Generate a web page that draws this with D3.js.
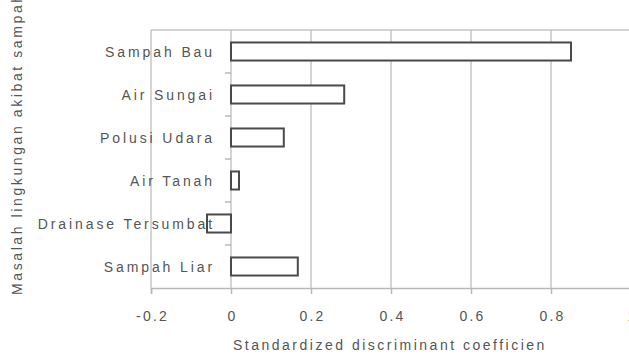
<!DOCTYPE html>
<html>
<head>
<meta charset="utf-8">
<script src="https://cdn.jsdelivr.net/npm/d3@7/dist/d3.min.js"></script>
<style>
  body { margin: 0; background: #fff; }
  svg { display: block; }
  text { font-family: "Liberation Sans", Arial, sans-serif; fill: #555; }
</style>
</head>
<body>
<svg id="chart" width="629" height="355"></svg>
<script>
const categories = ["Sampah Bau", "Air Sungai", "Polusi Udara", "Air Tanah", "Drainase Tersumbat", "Sampah Liar"];
const values = [0.85, 0.283, 0.132, 0.02, -0.06, 0.167];
const xTicks = [-0.2, 0, 0.2, 0.4, 0.6, 0.8, 1];
const xTickLabels = ["-0.2", "0", "0.2", "0.4", "0.6", "0.8", "1"];
const xTitle = "Standardized discriminant coefficien";
const yTitle = "Masalah lingkungan akibat sampah";

const svg = d3.select("#chart");
const pL = 151, pR = 631, pT = 30, pB = 288;

const x = d3.scaleLinear().domain([-0.2, 1]).range([pL, pR]);
const y = d3.scaleBand().domain(categories).range([pT, pB]).paddingInner(0.58).paddingOuter(0.29);

const gridColor = "#c6c6c6";

// gridlines
svg.append("g").selectAll("line").data(xTicks).join("line")
  .attr("x1", d => x(d)).attr("x2", d => x(d))
  .attr("y1", pT).attr("y2", pB)
  .attr("stroke", gridColor).attr("stroke-width", 1.5);

// plot border top
svg.append("line").attr("x1", pL).attr("x2", pR).attr("y1", pT).attr("y2", pT)
  .attr("stroke", gridColor).attr("stroke-width", 1.5);

// x axis
const xAxis = d3.axisBottom(x).tickValues(xTicks).tickSize(6).tickPadding(17)
  .tickFormat((d, i) => xTickLabels[i]);
const gx = svg.append("g").attr("transform", `translate(0,${pB})`).call(xAxis);
gx.select(".domain").attr("stroke", "#b8b8b8").attr("stroke-width", 1.5);
gx.selectAll(".tick line").attr("stroke", "#b8b8b8").attr("stroke-width", 1.5);
gx.selectAll(".tick text").attr("font-size", 14).attr("letter-spacing", 2.2).attr("fill", "#555")
  .attr("font-family", "Liberation Sans, Arial, sans-serif").attr("dx", 1);

// y-axis ticks at band boundaries on the zero line
const step = y.step();
const boundaries = d3.range(categories.length + 1).map(i => pT + i * step);
svg.append("g").selectAll("line").data(boundaries.slice(1, -1)).join("line")
  .attr("x1", x(0) - 6).attr("x2", x(0))
  .attr("y1", d => d).attr("y2", d => d)
  .attr("stroke", "#b8b8b8").attr("stroke-width", 1.5);

// bars
svg.append("g").selectAll("rect").data(categories).join("rect")
  .attr("x", (d, i) => x(Math.min(0, values[i])))
  .attr("width", (d, i) => Math.abs(x(values[i]) - x(0)))
  .attr("y", d => y(d))
  .attr("height", y.bandwidth())
  .attr("fill", "#fff")
  .attr("stroke", "#4a4a4a").attr("stroke-width", 2);

// category labels
svg.append("g").selectAll("text").data(categories).join("text")
  .attr("x", 215)
  .attr("y", d => y(d) + y.bandwidth() / 2)
  .attr("dy", "0.36em")
  .attr("text-anchor", "end")
  .attr("font-size", 14)
  .attr("letter-spacing", 2.9)
  .text(d => d);

// x title
svg.append("text").attr("x", 233).attr("y", 350)
  .attr("font-size", 14).attr("letter-spacing", 2.5)
  .text(xTitle);

// y title
svg.append("text").attr("transform", "translate(22,295) rotate(-90)")
  .attr("font-size", 14).attr("letter-spacing", 2.6)
  .text(yTitle);
</script>
</body>
</html>
